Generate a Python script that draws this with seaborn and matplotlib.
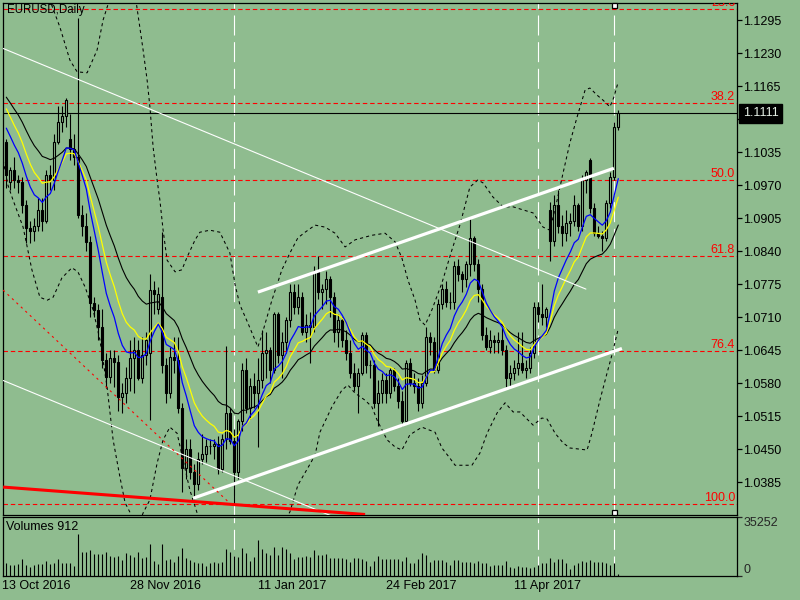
import numpy as np
import pandas as pd
import matplotlib
matplotlib.use("Agg")
import matplotlib.pyplot as plt
import matplotlib.transforms as mtransforms
import seaborn as sns

sns.set_style("white")
plt.rcParams['font.family'] = ['Liberation Sans', 'DejaVu Sans']

BG = '#8FBC8F'

# ---------------- data ----------------
chart_title = "EURUSD,Daily"

opens = [1.1055, 1.0975, 1.1000, 1.0980, 1.0975, 1.0930, 1.0885, 1.0880, 1.0890, 1.0920,
         1.0900, 1.0990, 1.0980, 1.1055, 1.1095, 1.1105, 1.1060, 1.1040, 1.1025, 1.0910,
         1.0890, 1.0857, 1.0738, 1.0724, 1.0690, 1.0625, 1.0592, 1.0629, 1.0621, 1.0552,
         1.0560, 1.0590, 1.0630, 1.0645, 1.0590, 1.0635, 1.0640, 1.0763, 1.0725, 1.0750,
         1.0615, 1.0560, 1.0632, 1.0625, 1.0530, 1.0412, 1.0450, 1.0405, 1.0382, 1.0430,
         1.0440, 1.0455, 1.0455, 1.0460, 1.0410, 1.0470, 1.0520, 1.0465, 1.0405, 1.0505,
         1.0605, 1.0530, 1.0575, 1.0560, 1.0585, 1.0640, 1.0645, 1.0605, 1.0715, 1.0635,
         1.0660, 1.0705, 1.0760, 1.0730, 1.0750, 1.0680, 1.0695, 1.0690, 1.0800, 1.0760,
         1.0765, 1.0785, 1.0750, 1.0680, 1.0705, 1.0665, 1.0640, 1.0600, 1.0575, 1.0600,
         1.0675, 1.0615, 1.0615, 1.0540, 1.0560, 1.0585, 1.0560, 1.0605, 1.0575, 1.0545,
         1.0505, 1.0620, 1.0580, 1.0575, 1.0540, 1.0580, 1.0670, 1.0660, 1.0605, 1.0735,
         1.0765, 1.0740, 1.0740, 1.0810, 1.0795, 1.0785, 1.0815, 1.0865, 1.0815, 1.0765,
         1.0675, 1.0650, 1.0665, 1.0660, 1.0665, 1.0645, 1.0590, 1.0600, 1.0610, 1.0620,
         1.0605, 1.0610, 1.0640, 1.0730, 1.0715, 1.0710, 1.0920, 1.0860, 1.0930, 1.0890,
         1.0875, 1.0895, 1.0900, 1.0930, 1.0890, 1.0980, 1.1020, 1.0925, 1.0875, 1.0870,
         1.0865, 1.0935, 1.0985, 1.1085]

highs = [1.1060, 1.1005, 1.1025, 1.0990, 1.0985, 1.0940, 1.0900, 1.0905, 1.0945, 1.0945,
         1.1000, 1.1010, 1.1070, 1.1125, 1.1125, 1.1142, 1.1110, 1.1070, 1.1299, 1.0930,
         1.0915, 1.0870, 1.0750, 1.0735, 1.0725, 1.0640, 1.0645, 1.0645, 1.0635, 1.0580,
         1.0612, 1.0665, 1.0670, 1.0665, 1.0670, 1.0680, 1.0795, 1.0780, 1.0770, 1.0877,
         1.0630, 1.0650, 1.0670, 1.0670, 1.0540, 1.0470, 1.0470, 1.0420, 1.0445, 1.0480,
         1.0470, 1.0470, 1.0470, 1.0475, 1.0480, 1.0653, 1.0530, 1.0490, 1.0510, 1.0620,
         1.0630, 1.0590, 1.0600, 1.0630, 1.0685, 1.0680, 1.0650, 1.0720, 1.0720, 1.0680,
         1.0710, 1.0775, 1.0775, 1.0775, 1.0760, 1.0715, 1.0720, 1.0810, 1.0830, 1.0775,
         1.0800, 1.0790, 1.0760, 1.0715, 1.0710, 1.0685, 1.0665, 1.0620, 1.0610, 1.0680,
         1.0680, 1.0625, 1.0625, 1.0585, 1.0600, 1.0600, 1.0610, 1.0610, 1.0590, 1.0565,
         1.0625, 1.0630, 1.0600, 1.0590, 1.0595, 1.0690, 1.0680, 1.0670, 1.0745, 1.0775,
         1.0780, 1.0760, 1.0820, 1.0825, 1.0800, 1.0820, 1.0906, 1.0870, 1.0825, 1.0775,
         1.0690, 1.0685, 1.0675, 1.0680, 1.0690, 1.0655, 1.0615, 1.0625, 1.0680, 1.0680,
         1.0625, 1.0650, 1.0740, 1.0740, 1.0775, 1.0730, 1.0937, 1.0950, 1.0960, 1.0910,
         1.0920, 1.0915, 1.0950, 1.0935, 1.0990, 1.1000, 1.1023, 1.0935, 1.0890, 1.0880,
         1.0940, 1.0995, 1.1095, 1.1117]

lows = [1.0965, 1.0960, 1.0965, 1.0955, 1.0915, 1.0855, 1.0855, 1.0860, 1.0880, 1.0880,
        1.0895, 1.0960, 1.0960, 1.1050, 1.1075, 1.1085, 1.1020, 1.1010, 1.0905, 1.0870,
        1.0840, 1.0710, 1.0710, 1.0665, 1.0610, 1.0570, 1.0580, 1.0572, 1.0525, 1.0520,
        1.0540, 1.0565, 1.0560, 1.0585, 1.0580, 1.0615, 1.0507, 1.0715, 1.0715, 1.0600,
        1.0540, 1.0550, 1.0600, 1.0520, 1.0365, 1.0390, 1.0390, 1.0352, 1.0370, 1.0420,
        1.0425, 1.0440, 1.0430, 1.0400, 1.0405, 1.0450, 1.0460, 1.0341, 1.0390, 1.0485,
        1.0520, 1.0510, 1.0530, 1.0453, 1.0570, 1.0590, 1.0580, 1.0600, 1.0620, 1.0590,
        1.0640, 1.0690, 1.0715, 1.0715, 1.0675, 1.0660, 1.0620, 1.0680, 1.0745, 1.0725,
        1.0735, 1.0710, 1.0660, 1.0650, 1.0650, 1.0625, 1.0590, 1.0565, 1.0520, 1.0595,
        1.0600, 1.0590, 1.0530, 1.0495, 1.0540, 1.0540, 1.0550, 1.0565, 1.0530, 1.0495,
        1.0500, 1.0575, 1.0560, 1.0525, 1.0530, 1.0575, 1.0635, 1.0600, 1.0600, 1.0725,
        1.0730, 1.0725, 1.0725, 1.0780, 1.0760, 1.0770, 1.0790, 1.0800, 1.0740, 1.0665,
        1.0645, 1.0640, 1.0640, 1.0640, 1.0635, 1.0572, 1.0570, 1.0585, 1.0595, 1.0600,
        1.0590, 1.0600, 1.0630, 1.0700, 1.0695, 1.0690, 1.0820, 1.0850, 1.0875, 1.0850,
        1.0860, 1.0870, 1.0890, 1.0880, 1.0880, 1.0955, 1.0915, 1.0870, 1.0865, 1.0840,
        1.0860, 1.0925, 1.0980, 1.1078]

closes = [1.0990, 1.1000, 1.0980, 1.0975, 1.0930, 1.0885, 1.0880, 1.0890, 1.0920, 1.0900,
          1.0990, 1.0980, 1.1055, 1.1095, 1.1105, 1.1138, 1.1040, 1.1025, 1.0910, 1.0890,
          1.0857, 1.0738, 1.0724, 1.0690, 1.0625, 1.0592, 1.0629, 1.0621, 1.0552, 1.0560,
          1.0590, 1.0630, 1.0645, 1.0590, 1.0635, 1.0665, 1.0763, 1.0755, 1.0755, 1.0615,
          1.0560, 1.0632, 1.0625, 1.0530, 1.0412, 1.0450, 1.0405, 1.0382, 1.0430, 1.0440,
          1.0455, 1.0455, 1.0460, 1.0410, 1.0470, 1.0520, 1.0465, 1.0405, 1.0505, 1.0605,
          1.0530, 1.0575, 1.0560, 1.0585, 1.0640, 1.0645, 1.0605, 1.0715, 1.0635, 1.0660,
          1.0705, 1.0760, 1.0730, 1.0750, 1.0680, 1.0695, 1.0690, 1.0800, 1.0760, 1.0765,
          1.0785, 1.0750, 1.0680, 1.0705, 1.0665, 1.0640, 1.0600, 1.0575, 1.0600, 1.0675,
          1.0615, 1.0615, 1.0540, 1.0560, 1.0585, 1.0560, 1.0605, 1.0575, 1.0545, 1.0505,
          1.0620, 1.0580, 1.0575, 1.0540, 1.0580, 1.0670, 1.0660, 1.0605, 1.0735, 1.0765,
          1.0740, 1.0740, 1.0810, 1.0795, 1.0785, 1.0815, 1.0865, 1.0815, 1.0765, 1.0675,
          1.0650, 1.0665, 1.0660, 1.0665, 1.0645, 1.0590, 1.0600, 1.0610, 1.0620, 1.0605,
          1.0610, 1.0640, 1.0730, 1.0715, 1.0710, 1.0725, 1.0860, 1.0930, 1.0890, 1.0875,
          1.0895, 1.0900, 1.0930, 1.0890, 1.0980, 1.0995, 1.0925, 1.0875, 1.0870, 1.0865,
          1.0935, 1.0985, 1.1085, 1.1111]

volumes = [8000, 6600, 6600, 7000, 10000, 6600, 5600, 6600, 7000, 7000,
           9000, 7000, 7600, 10000, 8000, 7600, 7600, 6000, 25200, 14600,
           14600, 15600, 13200, 13200, 13200, 14600, 12000, 11600, 12000, 9600,
           14000, 12600, 11600, 14600, 11000, 11600, 19200, 9000, 7000, 19200,
           9600, 10000, 8600, 12000, 16600, 10600, 9600, 8600, 8000, 8000,
           6000, 7600, 8600, 7600, 8600, 16000, 14600, 12000, 11600, 16600,
           14000, 9200, 11200, 21600, 16000, 13600, 12600, 17600, 12600, 17200,
           16000, 13600, 10000, 11200, 11600, 12000, 11600, 15600, 12600, 12600,
           13200, 10600, 10600, 10600, 10600, 10000, 8600, 10600, 10600, 10000,
           9000, 6000, 9000, 12000, 10000, 10000, 10000, 10000, 10000,
           9000, 11200, 7600, 7600, 10000, 14000, 12600, 8600, 9600, 9600,
           9600, 8600, 6600, 9600, 9600, 8600, 8600, 8600, 7600, 9000,
           8000, 8000, 6000, 6600, 6600, 6600, 9000, 5600, 5000, 6000,
           5600, 5600, 4600, 5600, 6600, 7600, 7600, 10600, 8600, 10000,
           10000, 7600, 4000, 6600, 7600, 9000, 8600, 9600, 8600, 8600,
           8600, 7600, 6600, 8000,
           912]

volume_label = "Volumes 912"
volume_scale_max = 35252

date_labels = ["13 Oct 2016", "28 Nov 2016", "11 Jan 2017", "24 Feb 2017", "11 Apr 2017"]
date_label_bars = [-1, 31, 63, 95, 127]

price_ticks = [1.1295, 1.1230, 1.1165, 1.1100, 1.1035, 1.0970, 1.0905, 1.0840,
               1.0775, 1.0710, 1.0645, 1.0580, 1.0515, 1.0450, 1.0385]
current_price = 1.1111

fib_high = 1.1619
fib_low = 1.0341
fib_levels = [23.6, 38.2, 50.0, 61.8, 76.4, 100.0]

vline_bars = [57, 133, 152]

# moving averages (span, value at first bar)
ma_blue = (9, 1.1082)
ma_yellow = (14, 1.1120)
ma_black = (24, 1.1143)

# dashed envelope lines
upper_band_bar = [-1, 4, 8, 10.9, 13.4, 15.9, 17.7, 20.2, 22.7, 24.2, 25.4, 27.5, 30, 32.4,
                  34.2, 35.2, 35.9, 36.7, 37.7, 38.4, 39.2, 40.2, 42.2, 43.9, 45.2, 47.2, 48.4,
                  50.9, 53.4, 55.9, 57.2, 58.4, 60.4, 62.9, 63.9, 66.4, 68.9, 70.9, 72.9, 74.7,
                  77.2, 79.7, 82.2, 84.7, 87.2, 91.4, 94.7, 97.2, 98.9, 100.4, 102.2, 103.4,
                  104.7, 106.4, 108.9, 111.4, 113.4, 115.9, 117.9, 119.2, 121.7, 124.2, 126.7,
                  129.2, 131.7, 134.2, 135.9, 137.7, 139.2, 140.9, 142.7, 144.7, 145.9, 147.7,
                  149.2, 150.9, 151.9, 152.9]
upper_band_price = [1.1420, 1.1410, 1.1370, 1.1334, 1.1281, 1.1216, 1.1193, 1.1191, 1.1236,
                    1.1295, 1.1325, 1.1380, 1.1390, 1.1334, 1.1236, 1.1177, 1.1124, 1.1045,
                    1.0980, 1.0940, 1.0881, 1.0822, 1.0799, 1.0803, 1.0828, 1.0862, 1.0877,
                    1.0881, 1.0877, 1.0836, 1.0773, 1.0734, 1.0698, 1.0651, 1.0675, 1.0743,
                    1.0803, 1.0836, 1.0866, 1.0877, 1.0891, 1.0887, 1.0875, 1.0848, 1.0862,
                    1.0871, 1.0875, 1.0858, 1.0826, 1.0783, 1.0743, 1.0704, 1.0694, 1.0724,
                    1.0777, 1.0842, 1.0891, 1.0966, 1.0980, 1.0974, 1.0946, 1.0927, 1.0927,
                    1.0921, 1.0915, 1.0887, 1.0881, 1.0940, 1.0994, 1.1053, 1.1104, 1.1157,
                    1.1161, 1.1147, 1.1137, 1.1124, 1.1143, 1.1171]

lower_band_bar = [-0.8, 0.4, 1.7, 4.2, 6.4, 8.4, 10.2, 11.7, 13.9, 16.4, 17.9, 19.7, 21.7,
                  23.4, 25.2, 26.7, 28.4, 29.7, 31.0, 32.7, 34.2, 35.9, 37.7, 39.2, 40.9, 42.7,
                  44.2, 45.9, 47.7, 50.9, 55.9, 60.9, 65.9, 70.9, 72.9, 75.4, 77.2, 78.4, 81.4,
                  83.9, 85.4, 87.2, 89.7, 91.4, 92.7, 95.2, 97.2, 98.9, 100.9, 103.9, 107.2,
                  108.9, 110.9, 112.2, 116.4, 118.4, 120.2, 122.7, 124.7, 126.7, 128.4, 131.7,
                  133.9, 135.2, 137.2, 139.2, 140.9, 145.2, 146.4, 148.4, 150.2, 151.4, 152.9]
lower_band_price = [1.1019, 1.0970, 1.0940, 1.0887, 1.0803, 1.0749, 1.0743, 1.0749, 1.0787,
                    1.0807, 1.0799, 1.0769, 1.0724, 1.0665, 1.0572, 1.0468, 1.0395, 1.0344,
                    1.0324, 1.0291, 1.0324, 1.0350, 1.0422, 1.0468, 1.0493, 1.0481, 1.0428,
                    1.0369, 1.0324, 1.0271, 1.0231, 1.0231, 1.0261, 1.0326, 1.0379, 1.0413,
                    1.0438, 1.0483, 1.0533, 1.0566, 1.0576, 1.0560, 1.0546, 1.0533, 1.0507,
                    1.0468, 1.0454, 1.0448, 1.0478, 1.0493, 1.0483, 1.0452, 1.0432, 1.0418,
                    1.0418, 1.0442, 1.0481, 1.0521, 1.0541, 1.0523, 1.0523, 1.0497, 1.0511,
                    1.0509, 1.0481, 1.0462, 1.0452, 1.0448, 1.0481, 1.0546, 1.0600, 1.0635,
                    1.0684]

# drawn objects: (bar0, price0, bar1, price1)
thin_white_upper = (-0.8, 1.1239, 144.9, 1.0765)
thin_white_lower = (-0.8, 1.0585, 88.4, 1.0295)
channel_upper = (62.9, 1.0759, 151.9, 1.1003)
channel_lower = (46.7, 1.0353, 153.9, 1.0648)
red_trend = (-0.8, 1.0375, 89.7, 1.0321)
red_dotted = (-0.8, 1.0763, 55.9, 1.0343)

# ---------------- derived ----------------
bars = np.arange(len(closes))
o = np.array(opens); h = np.array(highs); l = np.array(lows); c = np.array(closes)
df = pd.DataFrame({"bar": bars, "open": o, "high": h, "low": l, "close": c,
                   "volume": volumes})


def ema_seeded(values, span, seed):
    a = 2.0 / (span + 1)
    out = [seed]
    for v in values[1:]:
        out.append(a * v + (1 - a) * out[-1])
    return np.array(out)


df["ma_blue"] = ema_seeded(c, *ma_blue)
df["ma_yellow"] = ema_seeded(c, *ma_yellow)
df["ma_black"] = ema_seeded(c, *ma_black)

# ---------------- figure ----------------
W, H = 800, 600
FS = 9
fig = plt.figure(figsize=(8, 6), dpi=100, facecolor=BG)
ax = fig.add_axes([3 / W, 1 - 515 / H, 734 / W, 512.3 / H])
axv = fig.add_axes([3 / W, 1 - 576 / H, 734 / W, 59 / H])

XMIN, XMAX = -0.825, 182.675
for a_ in (ax, axv):
    a_.set_facecolor(BG)
    a_.set_xlim(XMIN, XMAX)
    for sp in a_.spines.values():
        sp.set_color('black')
        sp.set_linewidth(0.9)

ax.set_ylim(1.03200, 1.13291)
axv.set_ylim(0, volume_scale_max)

# vertical dashed lines
for vb in vline_bars:
    ax.axvline(vb, color='white', lw=0.8, ls=(0, (18, 6)), zorder=1)
    axv.axvline(vb, color='white', lw=0.8, ls=(0, (18, 6)), zorder=1)

# fibonacci levels
for lev in fib_levels:
    p = fib_high - lev / 100.0 * (fib_high - fib_low)
    ax.axhline(p, color='#FF0000', lw=0.8, ls=(0, (4, 2.6)), zorder=1.2)
    ax.text(182.2, p, f"{lev:.1f}", color='#FF0000', ha='right', va='bottom',
            fontsize=FS, clip_on=True, zorder=5)

# current price line
ax.axhline(current_price, color='black', lw=0.8, zorder=1.3)

# candles
ax.vlines(df["bar"], df["low"], df["high"], colors='black', lw=0.8, zorder=2)
bull = df["close"] >= df["open"]
bear = ~bull
ax.bar(df.loc[bull, "bar"], (df.loc[bull, "close"] - df.loc[bull, "open"]),
       bottom=df.loc[bull, "open"], width=0.55, facecolor=BG, edgecolor='black',
       linewidth=0.8, zorder=2.5)
ax.bar(df.loc[bear, "bar"], (df.loc[bear, "open"] - df.loc[bear, "close"]),
       bottom=df.loc[bear, "close"], width=0.55, facecolor='black', edgecolor='black',
       linewidth=0.8, zorder=2.5)

# moving averages
sns.lineplot(data=df, x="bar", y="ma_black", ax=ax, color='black', lw=0.8, zorder=3)
sns.lineplot(data=df, x="bar", y="ma_yellow", ax=ax, color='#FFFF00', lw=0.9, zorder=3)
sns.lineplot(data=df, x="bar", y="ma_blue", ax=ax, color='#0000FF', lw=0.9, zorder=3)

# dashed envelopes
sns.lineplot(x=upper_band_bar, y=upper_band_price, ax=ax, color='black', lw=0.75,
             linestyle=(0, (3, 3)), sort=False, errorbar=None, zorder=3)
sns.lineplot(x=lower_band_bar, y=lower_band_price, ax=ax, color='black', lw=0.75,
             linestyle=(0, (3, 3)), sort=False, errorbar=None, zorder=3)

# objects
def seg(t, **kw):
    ax.plot([t[0], t[2]], [t[1], t[3]], **kw)

seg(thin_white_upper, color='white', lw=0.8, zorder=4)
seg(thin_white_lower, color='white', lw=0.8, zorder=4)
seg(channel_upper, color='white', lw=2.3, zorder=4, solid_capstyle='butt')
seg(channel_lower, color='white', lw=2.3, zorder=4, solid_capstyle='butt')
seg(red_trend, color='#FF0000', lw=2.2, zorder=4, solid_capstyle='butt')
seg(red_dotted, color='#FF0000', lw=0.8, ls=(0, (2, 3.5)), zorder=4)

# selected vertical line anchors
blend = mtransforms.blended_transform_factory(ax.transData, ax.transAxes)
ax.plot([vline_bars[-1]], [0.9955], transform=blend, marker='s', ms=3.6,
        mfc='white', mec='black', mew=0.9, clip_on=False, zorder=6)
ax.plot([vline_bars[-1]], [0.006], transform=blend, marker='s', ms=3.6,
        mfc='white', mec='black', mew=0.9, clip_on=False, zorder=6)

# y axis (right)
ax.yaxis.tick_right()
ax.set_yticks(price_ticks)
ax.set_yticklabels([f"{t:.4f}" for t in price_ticks])
ax.tick_params(axis='y', which='both', direction='out', length=3.5, width=0.9,
               pad=1.2, labelsize=FS, colors='black', left=False, right=True)
ax.tick_params(axis='x', bottom=False, labelbottom=False)
ax.set_xlabel(''); ax.set_ylabel('')

# current price box (covers the neighbouring axis label, as on the original)
ax.text(1.0078, current_price, f"{current_price:.4f}",
        transform=mtransforms.blended_transform_factory(ax.transAxes, ax.transData),
        ha='left', va='center', fontsize=FS, color='#E4EEE4', clip_on=False,
        zorder=20, bbox=dict(boxstyle='square,pad=0.26', fc='black', ec='black'))

# title
ax.text(0.0054, 0.9965, chart_title, transform=ax.transAxes, ha='left', va='top',
        fontsize=8.3, color='black', zorder=6)

# volumes
axv.vlines(bars, 0, volumes, colors='black', lw=0.8, zorder=2)
axv.yaxis.tick_right()
axv.set_yticks([0, volume_scale_max])
axv.set_yticklabels(["0", str(volume_scale_max)])
axv.tick_params(axis='y', direction='out', length=3.5, width=0.9, pad=1.2,
                labelsize=FS, left=False, right=True)
lbls = axv.get_yticklabels()
lbls[0].set_va('bottom')
lbls[1].set_va('top')
axv.set_xticks(date_label_bars[1:])
axv.set_xticklabels([])
axv.tick_params(axis='x', direction='out', length=3.5, width=0.9)
axv.text(0.004, 0.94, volume_label, transform=axv.transAxes, ha='left', va='top',
         fontsize=FS, color='black')
vblend = mtransforms.blended_transform_factory(axv.transData, axv.transAxes)
for b, lab in zip(date_label_bars, date_labels):
    axv.text(b, -0.06, lab, transform=vblend, ha='left', va='top', fontsize=FS,
             color='black', clip_on=False)

fig.savefig("out.png", dpi=100, facecolor=BG)
